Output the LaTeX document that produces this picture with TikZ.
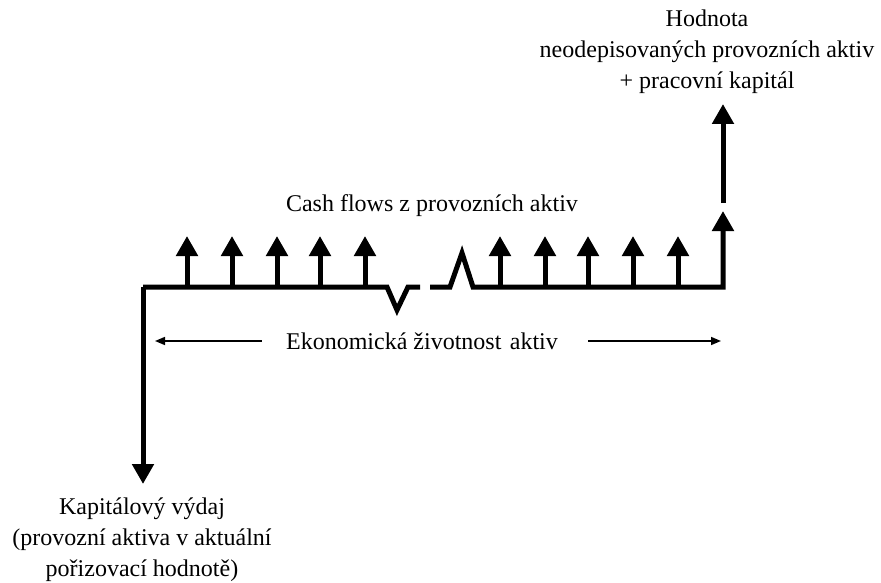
\documentclass[tikz,border=0pt]{standalone}
\usepackage{fontspec}
\setmainfont{Liberation Serif}
\usetikzlibrary{arrows.meta}
\begin{document}
\begin{tikzpicture}[x=1pt,y=-1pt,
  flow/.style={line width=5pt,line join=miter,line cap=butt},
  bigtip/.style={-{Triangle[width=21pt,length=20pt]}},
  span/.style={line width=1.6pt,-{Triangle[width=8pt,length=10pt]}},
  lbl/.style={font=\fontsize{24}{31}\selectfont,align=center,inner sep=0pt}]
\useasboundingbox (0,0) rectangle (881,583);

% time line with the break
\coordinate (start) at (143,287);
\coordinate (down) at (143,484);
\coordinate (endL) at (420,287);
\coordinate (startR) at (430,287);
\coordinate (endR) at (723,287);
\coordinate (resid) at (723,211);
\coordinate (residB) at (723,203);
\coordinate (residT) at (723,104);

\draw[flow,bigtip] (start) -- (down);
\draw[flow] (start) -- (387,287) -- (397,310) -- (408,287) -- (endL);
\draw[flow,bigtip] (startR) -- (450,287) -- (462,253) -- (473,287) -- (endR) -- (resid);
\draw[flow,bigtip] (residB) -- (residT);

% yearly cash flows
\foreach \x in {187,232,277,320,365,500,545,588,633,678}
  \draw[flow,bigtip] (\x,289) -- (\x,236);

% labels
\node[lbl] (top) at (707,52) {Hodnota\\neodepisovaných provozních aktiv\\+ pracovní kapitál};
\node[lbl] (cf) at (432,206) {Cash flows z provozních aktiv};
\node[lbl] (life) at (422,341) {Ekonomická životnost\hspace{0.35em}aktiv};
\node[lbl] (capex) at (142,540) {Kapitálový výdaj\\(provozní aktiva v aktuální\\pořizovací hodnotě)};

\coordinate (lifeL) at (155,341);
\coordinate (lifeR) at (721,341);
\draw[span] (life.west) ++(-24,0) -- (lifeL);
\draw[span] (life.east) ++(30,0) -- (lifeR);
\end{tikzpicture}
\end{document}
